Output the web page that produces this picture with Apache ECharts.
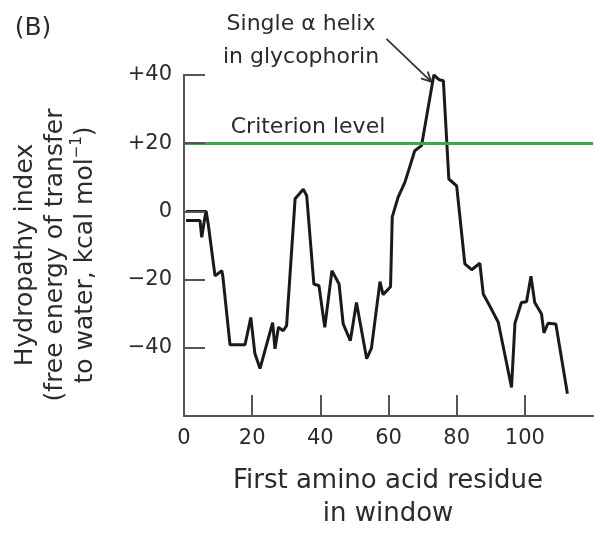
<!DOCTYPE html>
<html>
<head>
<meta charset="utf-8">
<script src="https://cdn.jsdelivr.net/npm/echarts@6/dist/echarts.min.js"></script>
<style>
    html, body { margin: 0; padding: 0; background: #fff; }
    .box { position: relative; width: 595px; height: 534px; }
    #chart, #ticks { position: absolute; left: 0; top: 0; width: 595px; height: 534px; }
    #ticks { pointer-events: none; }
</style>
</head>
<body>
<div class="box">
    <div id="chart"></div>
    <div id="ticks"></div>
</div>
<script>
// traced hydropathy profile (first residue in window, kcal/mol)
const residue = [0.6, 6.5, 7.1, 9.1, 11.1, 11.4, 13.5, 17.9, 19.6, 20.8,
    22.3, 26.0, 26.7, 27.7, 29.1, 30.1, 32.6, 35.0, 36.0, 38.1,
    39.6, 41.3, 43.4, 45.5, 46.7, 48.8, 50.6, 53.6, 55.0, 57.5,
    58.4, 60.6, 61.1, 62.8, 64.8, 66.8, 67.7, 69.7, 73.3, 74.9,
    76.1, 77.7, 80.0, 82.4, 84.4, 86.8, 87.8, 89.7, 92.2, 96.1,
    97.1, 99.0, 100.5, 101.8, 102.9, 104.9, 105.6, 106.8, 109.1, 112.5]
const hydropathy = [0, 0, -3.7, -18.9, -17.4, -19.1, -39.1, -39.1, -31.1, -41.7,
    -46.1, -32.6, -40.3, -34.0, -35.0, -33.5, 3.7, 6.5, 4.6, -21.3,
    -21.8, -34.0, -17.4, -21.3, -33.0, -37.9, -26.7, -43.2, -40.1, -20.6,
    -24.4, -22.1, -1.6, 4.1, 8.5, 14.9, 17.8, 19.3, 40.0, 38.6,
    38.3, 9.5, 7.5, -15.4, -17.1, -15.2, -24.2, -27.7, -32.5, -51.6,
    -32.8, -26.7, -26.5, -19.0, -26.7, -30.1, -35.6, -32.8, -33.0, -53.5]
// second short trace at the start of the plot
const stubResidue = [0.6, 4.7, 5.2, 6.2, 6.5]
const stubHydropathy = [-2.7, -2.7, -7.6, -1.3, 0]

const criterionLevel = 20
const xTicks = [0, 20, 40, 60, 80, 100]
const helixArrow = [[59.4, 50.6], [72.6, 38.0]]

const FONT = 'DejaVu Sans'
const TEXT = '#2b2b2b'
const AXIS = '#555'
const TICK_LEN = 21
const GRID = { left: 184, right: 2, top: 75, bottom: 118 }

function pairs(xs, ys) {
    return xs.map((x, i) => [x, ys[i]])
}

const chart = echarts.init(document.getElementById('chart'))
chart.setOption({
    animation: false,
    grid: GRID,
    xAxis: {
        type: 'value',
        min: 0,
        max: 120,
        interval: 20,
        axisLine: {
            onZero: false,
            lineStyle: { color: AXIS, width: 2 }
        },
        axisTick: {
            inside: true,
            length: TICK_LEN,
            customValues: xTicks,
            lineStyle: { color: AXIS, width: 2 }
        },
        axisLabel: {
            customValues: xTicks,
            margin: 12,
            color: TEXT,
            fontFamily: FONT,
            fontSize: 21
        },
        splitLine: { show: false }
    },
    yAxis: {
        type: 'value',
        min: -60,
        max: 40,
        interval: 20,
        axisLine: {
            show: true,
            onZero: false,
            lineStyle: { color: AXIS, width: 2 }
        },
        axisTick: {
            show: true,
            inside: true,
            length: TICK_LEN,
            lineStyle: { color: AXIS, width: 2 }
        },
        axisLabel: {
            margin: 12,
            color: TEXT,
            fontFamily: FONT,
            fontSize: 21,
            formatter: function (v) {
                if (v === -60) return ''
                if (v > 0) return '+' + v
                if (v < 0) return '\u2212' + (-v)
                return '0'
            }
        },
        splitLine: { show: false }
    },
    series: [
        {
            name: 'hydropathy',
            type: 'line',
            data: pairs(residue, hydropathy),
            symbol: 'none',
            lineStyle: { color: '#1a1a1a', width: 3 },
            markLine: {
                silent: true,
                symbol: 'none',
                label: { show: false },
                lineStyle: { color: '#35a94b', width: 3, type: 'solid' },
                data: [{ yAxis: criterionLevel }]
            },
            z: 3
        },
        {
            name: 'start',
            type: 'line',
            data: pairs(stubResidue, stubHydropathy),
            symbol: 'none',
            lineStyle: { color: '#1a1a1a', width: 3 },
            z: 3
        }
    ]
})

// the inner y ticks kept vanishing under the plot, so they get a bare overlay
// chart with the same grid and y scale, showing nothing but the ticks
const tickChart = echarts.init(document.getElementById('ticks'))
tickChart.setOption({
    animation: false,
    grid: GRID,
    xAxis: { type: 'value', min: 0, max: 120, show: false },
    yAxis: {
        type: 'value',
        min: -60,
        max: 40,
        interval: 20,
        axisLine: { show: true, onZero: false, lineStyle: { color: AXIS, width: 2 } },
        axisTick: { show: true, inside: true, length: TICK_LEN, lineStyle: { color: AXIS, width: 2 } },
        axisLabel: { show: false },
        splitLine: { show: false }
    },
    series: []
})

// annotations
const tail = chart.convertToPixel({ gridIndex: 0 }, helixArrow[0])
const head = chart.convertToPixel({ gridIndex: 0 }, helixArrow[1])
const ang = Math.atan2(head[1] - tail[1], head[0] - tail[0])
const hl = 11
const wing1 = [head[0] - hl * Math.cos(ang - 0.45), head[1] - hl * Math.sin(ang - 0.45)]
const wing2 = [head[0] - hl * Math.cos(ang + 0.45), head[1] - hl * Math.sin(ang + 0.45)]

const txt = (x, y, text, size) => ({
    type: 'text',
    x: x,
    y: y,
    style: {
        text: text,
        fill: TEXT,
        font: size + 'px "' + FONT + '"',
        align: 'center',
        verticalAlign: 'middle'
    }
})

chart.setOption({
    graphic: [
        txt(33, 28, '(B)', 25),
        txt(301, 24, 'Single \u03b1 helix', 22),
        txt(301, 57, 'in glycophorin', 22),
        txt(308, 127, 'Criterion level', 22),
        txt(388, 481, 'First amino acid residue', 26),
        txt(388, 514, 'in window', 26),
        {
            type: 'text',
            x: 55,
            y: 255,
            rotation: Math.PI / 2,
            style: {
                text: 'Hydropathy index\n(free energy of transfer\n{a|to water, kcal mol}{s|\u22121}{a|)}',
                fill: TEXT,
                font: '25px "' + FONT + '"',
                lineHeight: 30,
                align: 'center',
                verticalAlign: 'middle',
                rich: {
                    a: { fontFamily: FONT, fontSize: 25, fill: TEXT, lineHeight: 30 },
                    s: { fontFamily: FONT, fontSize: 15, fill: TEXT, verticalAlign: 'top', lineHeight: 30, padding: [0, 0, 10, 0] }
                }
            }
        },
        {
            type: 'polyline',
            shape: { points: [tail, head] },
            style: { stroke: '#333', lineWidth: 1.8 }
        },
        {
            type: 'polyline',
            shape: { points: [wing1, head, wing2] },
            style: { stroke: '#333', lineWidth: 1.8, fill: null }
        }
    ]
})
</script>
</body>
</html>
